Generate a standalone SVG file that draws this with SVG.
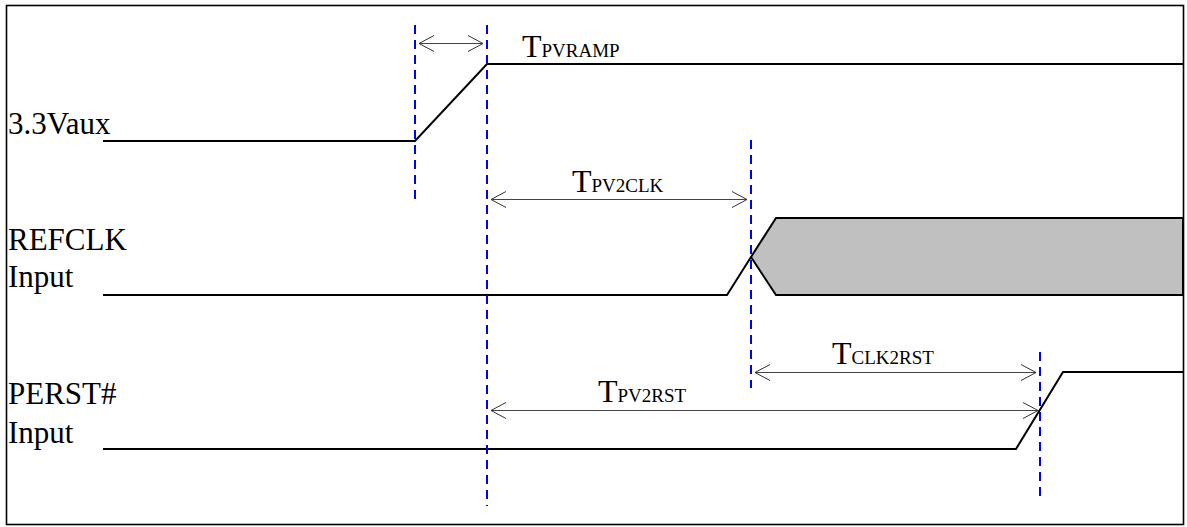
<svg xmlns="http://www.w3.org/2000/svg" width="1187" height="527" viewBox="0 0 1187 527">
<defs>
<style>
.sig{fill:none;stroke:#000;stroke-width:2;stroke-linejoin:miter}
.dash{fill:none;stroke:#0000ff;stroke-width:2;stroke-dasharray:9 6}
.dim{fill:none;stroke:#444;stroke-width:1}
.lbl{font-family:"Liberation Serif",serif;font-size:31px;fill:#000}
.t{font-size:32px}
.sub{font-size:19px}
</style>
<marker id="ahEnd" markerUnits="userSpaceOnUse" viewBox="-17 -9 18 18" markerWidth="18" markerHeight="18" refX="0" refY="0" orient="auto">
<path d="M -15 -8 L 0 0 L -15 8" fill="none" stroke="#333" stroke-width="1"/>
</marker>
<marker id="ahStart" markerUnits="userSpaceOnUse" viewBox="-1 -9 18 18" markerWidth="18" markerHeight="18" refX="0" refY="0" orient="auto">
<path d="M 15 -8 L 0 0 L 15 8" fill="none" stroke="#333" stroke-width="1"/>
</marker>
</defs>
<rect x="6.5" y="5.5" width="1177" height="519" fill="#fff" stroke="#000" stroke-width="1.6"/>
<g id="vaux">
<polyline class="sig" points="103,141 415,141 487,64 1183,64"/>
<text class="lbl" x="8" y="134">3.3Vaux</text>
</g>
<g id="refclk">
<path d="M751,257 L776,218 L1183,218 L1183,295 L776,295 Z" fill="#c0c0c0" stroke="#000" stroke-width="2"/>
<polyline class="sig" points="103,295 727,295 751,257"/>
<text class="lbl" x="8" y="250">REFCLK</text>
<text class="lbl" x="8" y="287">Input</text>
</g>
<g id="perst">
<polyline class="sig" points="103,449 1016,449 1063,372 1183,372"/>
<text class="lbl" x="8" y="404">PERST#</text>
<text class="lbl" x="8" y="443">Input</text>
</g>
<g id="connectors">
<line class="dash" x1="415" y1="25" x2="415" y2="200"/>
<line class="dash" x1="487" y1="25" x2="487" y2="506"/>
<line class="dash" x1="751" y1="140" x2="751" y2="388"/>
<line class="dash" x1="1040" y1="352" x2="1040" y2="498"/>
<line class="dim" x1="419" y1="43.5" x2="483" y2="43.5" marker-start="url(#ahStart)" marker-end="url(#ahEnd)"/>
<line class="dim" x1="491" y1="199.5" x2="747" y2="199.5" marker-start="url(#ahStart)" marker-end="url(#ahEnd)"/>
<line class="dim" x1="755" y1="372.5" x2="1036" y2="372.5" marker-start="url(#ahStart)" marker-end="url(#ahEnd)"/>
<line class="dim" x1="491" y1="410.5" x2="1038" y2="410.5" marker-start="url(#ahStart)" marker-end="url(#ahEnd)"/>
</g>
<g id="labels">
<text class="lbl" x="522" y="57"><tspan class="t">T</tspan><tspan class="sub">PVRAMP</tspan></text>
<text class="lbl" x="572" y="192"><tspan class="t">T</tspan><tspan class="sub">PV2CLK</tspan></text>
<text class="lbl" x="832" y="364"><tspan class="t">T</tspan><tspan class="sub">CLK2RST</tspan></text>
<text class="lbl" x="598" y="402"><tspan class="t">T</tspan><tspan class="sub">PV2RST</tspan></text>
</g>
</svg>
